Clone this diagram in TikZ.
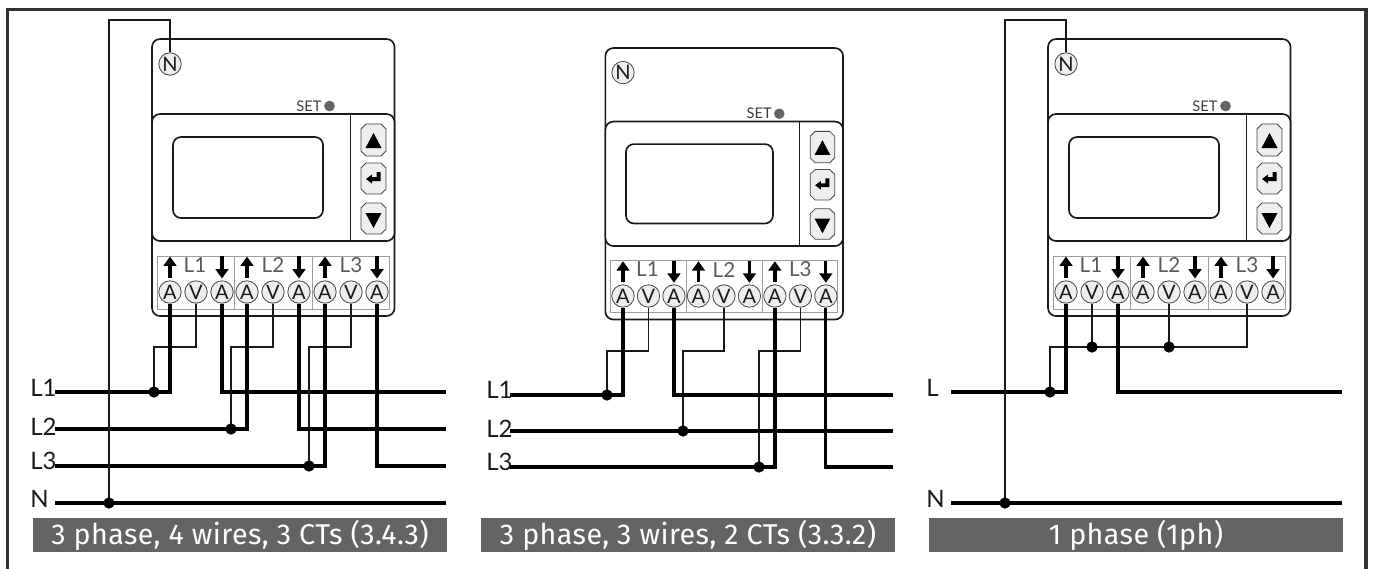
\documentclass[tikz,border=0pt]{standalone}
\usepackage{fontspec}
\usetikzlibrary{arrows.meta}
\setmainfont{Lato}
\newfontfamily\capfont[LetterSpace=1.5]{Fira Sans}
\definecolor{capgray}{HTML}{636466}
\definecolor{keyfill}{HTML}{EEEEEE}
\definecolor{ink}{HTML}{1A1A1A}
\tikzset{
  x=.75pt,y=-.75pt,
  frameline/.style={draw=ink!90,line width=2.4pt},
  bodyline/.style={draw=ink,line width=1.25pt,rounded corners=6pt},
  thinline/.style={draw=ink,line width=.7pt},
  keybox/.style={draw=ink!80,line width=.6pt,fill=keyfill},
  termbox/.style={draw=black!38,line width=.7pt},
  term/.style={circle,draw=ink!80,line width=.6pt,fill=keyfill,inner sep=0pt,minimum size=16.8pt,font=\fontsize{15}{15}\selectfont,text=ink},
  flow/.style={draw=black,line width=2.4pt,-{Triangle[length=7pt,width=9.5pt]}},
  thick wire/.style={draw=black,line width=2.4pt,line join=miter},
  thin wire/.style={draw=ink,line width=1.05pt,line join=miter},
  neutral wire/.style={draw=ink,line width=1.4pt,line join=miter},
  joint/.style={circle,fill=black,inner sep=0pt,minimum size=8.5pt},
  caption/.style={fill=capgray,text=white,minimum width=310.5pt,minimum height=25.5pt,inner sep=0pt,font=\capfont\fontsize{21.5}{21.5}\selectfont},
  wlabel/.style={font=\fontsize{18}{18}\selectfont,text=ink,inner sep=0pt,anchor=base west},
  tlabel/.style={font=\fontsize{15.5}{15.5}\selectfont,text=black!65,inner sep=0pt},
}
\newcommand{\meter}[4]{%
\begin{scope}[shift={(#2,#3)},scale=#4,shift={(-170,-292)}]
  \draw[bodyline] (152,39) rectangle (394.5,316);
  \draw[bodyline,fill=white] (152,114) rectangle (394.5,241);
  \draw[bodyline] (173,137) rectangle (323,218);
  \draw[thinline] (350,114) -- (350,241);
  \node[font=\fontsize{11}{11}\selectfont,text=ink!85,inner sep=0pt] at (309,106) {SET};
  \fill[capgray,draw=ink!70,line width=.4pt] (329.5,106) circle (5);
  \node[term] (#1n) at (170,64) {N};
  \foreach \yt/\yb in {124/156,163/194,203/234}{
    \draw[keybox] (366,\yt) -- (381,\yt) -- (386,\yt+5) -- (386,\yb-5) -- (381,\yb) -- (366,\yb) -- (361,\yb-5) -- (361,\yt+5) -- cycle;}
  \fill[black] (373.5,133) -- (381.5,148) -- (365.5,148) -- cycle;
  \fill[black] (373.5,228) -- (381.5,213) -- (365.5,213) -- cycle;
  \fill[black] (366,179) -- (372,174.5) -- (372,177) -- (376.5,177) -- (376.5,172) -- (380.5,172) -- (380.5,181) -- (372,181) -- (372,183.5) -- cycle;
  \draw[termbox] (157,256) rectangle (389,309) (234.5,256) -- (234.5,309) (312,256) -- (312,309);
  \foreach \n/\xx/\t in {1/170/A,2/196/V,3/222/A,4/247/A,5/273/V,6/299/A,7/325/A,8/351/V,9/377/A}{
    \node[term] (#1t\n) at (\xx,292) {\t};}
  \foreach \xx in {170,247,325}{\draw[flow] (\xx,278) -- (\xx,256.5);}
  \foreach \xx in {222,299,377}{\draw[flow] (\xx,256) -- (\xx,278.5);}
  \node[tlabel] at (195,265) {L1};
  \node[tlabel] at (273,265) {L2};
  \node[tlabel] at (351,265) {L3};
\end{scope}}
\begin{document}
\begin{tikzpicture}
\useasboundingbox (0,0) rectangle (1373,568);
\draw[frameline] (7.5,569) -- (7.5,9.5) -- (1366,9.5) -- (1366,569);
\meter{a}{170}{292}{1}
\meter{b}{623}{296}{.98}
\meter{c}{1066}{292}{1}
% panel 1
\node[wlabel] at (30,396) {L1};
\node[wlabel] at (30,435) {L2};
\node[wlabel] at (30,469) {L3};
\node[wlabel] at (30,507) {N};
\coordinate (aL1) at (55,392);\coordinate (aL2) at (55,429);\coordinate (aL3) at (55,466);\coordinate (aN) at (55,503);
\coordinate (aR1) at (446,392);\coordinate (aR2) at (446,429);\coordinate (aR3) at (446,466);\coordinate (aRN) at (446,503);
\draw[thin wire] (at2.south) |- (154,347) -- (154,392);
\draw[thin wire] (at5.south) |- (231,347) -- (231,429);
\draw[thin wire] (at8.south) |- (309,347) -- (309,466);
\draw[thick wire] (aL1) -| (at1.south);
\draw[thick wire] (aL2) -| (at4.south);
\draw[thick wire] (aL3) -| (at7.south);
\draw[thick wire] (at3.south) |- (aR1);
\draw[thick wire] (at6.south) |- (aR2);
\draw[thick wire] (at9.south) |- (aR3);
\draw[thick wire] (aN) -- (aRN);
\draw[neutral wire] (109,503) -- (109,20) -| (an.north);
\node[joint] (aj1) at (154,392) {};
\node[joint] (aj2) at (231,429) {};
\node[joint] (aj3) at (309,466) {};
\node[joint] (ajn) at (109,503) {};
\node[caption] (acap) at (240,535) {3 phase, 4 wires, 3 CTs (3.4.3)};
% panel 2
\node[wlabel] at (486,398) {L1};
\node[wlabel] at (486,437) {L2};
\node[wlabel] at (486,470) {L3};
\coordinate (bL1) at (510,395);\coordinate (bL2) at (510,431);\coordinate (bL3) at (510,467);
\coordinate (bR1) at (893,395);\coordinate (bR2) at (893,431);\coordinate (bR3) at (893,467);
\draw[thin wire] (bt2.south) |- (607,351) -- (607,395);
\draw[thin wire] (bt5.south) |- (683,351) -- (683,431);
\draw[thin wire] (bt8.south) |- (759,351) -- (759,467);
\draw[thick wire] (bL1) -| (bt1.south);
\draw[thick wire] (bL2) -- (bR2);
\draw[thick wire] (bL3) -| (bt7.south);
\draw[thick wire] (bt3.south) |- (bR1);
\draw[thick wire] (bt9.south) |- (bR3);
\node[joint] (bj1) at (607,395) {};
\node[joint] (bj2) at (683,431) {};
\node[joint] (bj3) at (759,467) {};
\node[caption] (bcap) at (688,535) {3 phase, 3 wires, 2 CTs (3.3.2)};
% panel 3
\node[wlabel] at (926,396) {L};
\node[wlabel] at (926,507) {N};
\coordinate (cL) at (951,392);\coordinate (cN) at (951,503);
\coordinate (cRL) at (1342,392);\coordinate (cRN) at (1342,503);
\draw[thin wire] (ct8.south) |- (1050,347) -- (1050,392);
\draw[thin wire] (ct2.south) -- (ct2.south |- 0,347);
\draw[thin wire] (ct5.south) -- (ct5.south |- 0,347);
\draw[thick wire] (cL) -| (ct1.south);
\draw[thick wire] (ct3.south) |- (cRL);
\draw[thick wire] (cN) -- (cRN);
\draw[neutral wire] (1005,503) -- (1005,20) -| (cn.north);
\node[joint] (cj1) at (1050,392) {};
\node[joint] (cj2) at (1092,347) {};
\node[joint] (cj3) at (1169,347) {};
\node[joint] (cjn) at (1005,503) {};
\node[caption] (ccap) at (1136,535) {1 phase (1ph)};
\end{tikzpicture}
\end{document}
